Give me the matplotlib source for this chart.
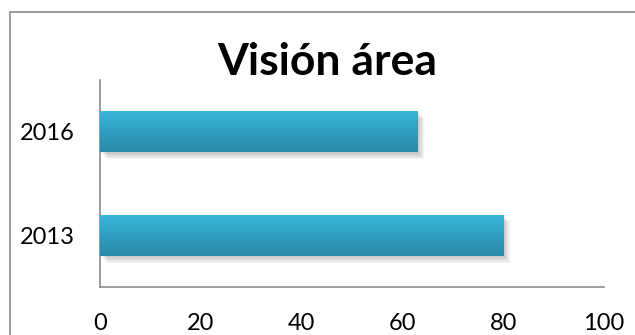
import numpy as np
import matplotlib
matplotlib.use("Agg")
import matplotlib.pyplot as plt
import matplotlib.patheffects as pe
from matplotlib.patches import Rectangle
from matplotlib.colors import LinearSegmentedColormap

categories = ["2013", "2016"]
values = [80, 63]
xticks = [0, 20, 40, 60, 80, 100]
title = "Visión área"

plt.rcParams['font.family'] = ['Lato', 'DejaVu Sans']

W, H = 635, 335
fig = plt.figure(figsize=(W / 100, H / 100), dpi=100)
fig.patch.set_facecolor("white")

# outer chart border (cropped on right/bottom)
fig.patches.append(Rectangle((10 / W, -0.1), 1.2, 1 - 12 / H + 0.1, transform=fig.transFigure,
                             fill=False, edgecolor="#8c8c8c", linewidth=1.2, zorder=0))

ax = fig.add_axes([100 / W, (H - 287) / H, (604 - 100) / W, (287 - 80) / H])
ax.set_facecolor("none")

y = np.arange(len(categories))
shadow = [pe.SimplePatchShadow(offset=(o, -o), shadow_rgbFace="#000000", alpha=0.045)
          for o in (1, 2, 3, 4, 5)]
bars = ax.barh(y, values, height=0.4, color="#33a9cc", edgecolor="none", zorder=2)
for b in bars:
    b.set_path_effects(shadow + [pe.Normal()])

cmap = LinearSegmentedColormap.from_list("g", ["#2a8aa7", "#37b5da"])
grad = np.linspace(0, 1, 256).reshape(-1, 1)
for b in bars:
    x0, y0 = b.get_x(), b.get_y()
    w, h = b.get_width(), b.get_height()
    im = ax.imshow(grad, cmap=cmap, aspect="auto", origin="lower",
                   extent=[x0, x0 + w, y0, y0 + h], zorder=3, interpolation="bilinear")
    im.set_clip_path(b)

ax.set_xlim(0, 100)
ax.set_ylim(-0.5, 1.5)
ax.set_xticks(xticks)
ax.set_xticklabels([str(t) for t in xticks])
ax.set_yticks(y)
ax.set_yticklabels(categories)
ax.tick_params(axis="x", length=0, pad=19, labelsize=17, colors="black")
ax.tick_params(axis="y", length=0, pad=18, labelsize=17, colors="black")
for s in ("top", "right"):
    ax.spines[s].set_visible(False)
for s in ("left", "bottom"):
    ax.spines[s].set_color("#8c8c8c")
    ax.spines[s].set_linewidth(1.2)

fig.text(327 / W, 1 - 62 / H, title, ha="center", va="center",
         fontsize=32, fontweight="bold", color="black")

fig.savefig("out.png", dpi=100)
